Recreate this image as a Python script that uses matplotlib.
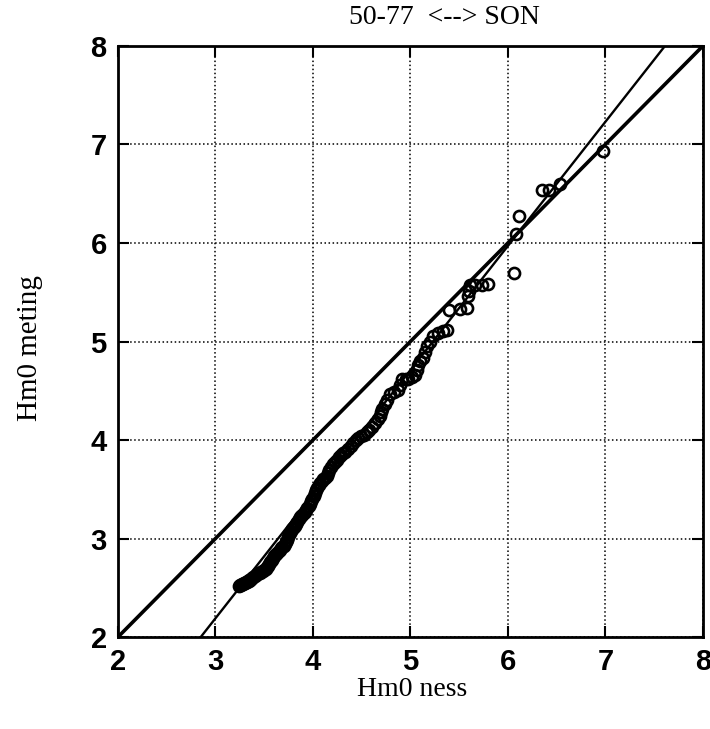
import matplotlib
matplotlib.use("Agg")
import matplotlib.pyplot as plt

# Hm0 from the wave model (ness) against measured Hm0 (meting), sorted pairs
ness = [3.24, 3.25, 3.26, 3.27, 3.28, 3.29, 3.30, 3.31, 3.32, 3.33,
        3.34, 3.35, 3.36, 3.37, 3.38, 3.39, 3.41, 3.42, 3.43, 3.44,
        3.46, 3.47, 3.49, 3.50, 3.52, 3.53, 3.54, 3.55, 3.56, 3.57,
        3.58, 3.59, 3.60, 3.61, 3.62, 3.63, 3.65, 3.66, 3.67, 3.68,
        3.70, 3.71, 3.72, 3.73, 3.75, 3.76, 3.77, 3.78, 3.79, 3.80,
        3.81, 3.82, 3.83, 3.84, 3.86, 3.87, 3.88, 3.89, 3.91, 3.92,
        3.93, 3.94, 3.96, 3.97, 3.98, 3.99, 4.01, 4.02, 4.03, 4.04,
        4.06, 4.07, 4.09, 4.10, 4.12, 4.14, 4.16, 4.17, 4.19, 4.21,
        4.23, 4.25, 4.27, 4.29, 4.31, 4.33, 4.36, 4.39, 4.41, 4.44,
        4.46, 4.49, 4.52, 4.55, 4.58, 4.61, 4.64, 4.67, 4.69, 4.70,
        4.71, 4.74, 4.76, 4.79, 4.83, 4.87, 4.89, 4.91, 4.95, 4.98,
        5.02, 5.05, 5.07, 5.08, 5.10, 5.13, 5.15, 5.17, 5.20, 5.23,
        5.28, 5.33, 5.38, 5.40, 5.51, 5.58, 5.59, 5.60, 5.61, 5.66,
        5.73, 5.80, 6.06, 6.08, 6.11, 6.35, 6.42, 6.53, 6.98]
meting = [2.52, 2.53, 2.53, 2.54, 2.54, 2.55, 2.55, 2.56, 2.56, 2.57,
          2.57, 2.58, 2.58, 2.59, 2.60, 2.61, 2.62, 2.63, 2.64, 2.65,
          2.65, 2.66, 2.67, 2.68, 2.69, 2.71, 2.72, 2.74, 2.76, 2.77,
          2.78, 2.80, 2.82, 2.83, 2.84, 2.85, 2.87, 2.88, 2.90, 2.91,
          2.93, 2.95, 2.97, 2.99, 3.02, 3.05, 3.06, 3.08, 3.10, 3.11,
          3.12, 3.13, 3.15, 3.17, 3.20, 3.22, 3.23, 3.24, 3.26, 3.27,
          3.29, 3.31, 3.33, 3.35, 3.38, 3.40, 3.43, 3.46, 3.49, 3.51,
          3.54, 3.56, 3.58, 3.60, 3.62, 3.64, 3.67, 3.70, 3.73, 3.76,
          3.78, 3.80, 3.83, 3.85, 3.87, 3.88, 3.91, 3.94, 3.97, 4.00,
          4.02, 4.04, 4.05, 4.08, 4.10, 4.13, 4.17, 4.21, 4.24, 4.28,
          4.32, 4.37, 4.41, 4.47, 4.49, 4.51, 4.56, 4.62, 4.62, 4.62,
          4.64, 4.66, 4.71, 4.76, 4.80, 4.83, 4.89, 4.95, 5.00, 5.06,
          5.09, 5.11, 5.12, 5.32, 5.33, 5.34, 5.46, 5.51, 5.57, 5.57,
          5.57, 5.58, 5.70, 6.09, 6.27, 6.54, 6.54, 6.60, 6.93]

# linear fit through the pairs
fit_slope = 1.26
fit_intercept = -1.59

ticks = [2, 3, 4, 5, 6, 7, 8]

fig = plt.figure(figsize=(7.10, 7.29), dpi=100)
ax = fig.add_axes([0.166, 0.126, 0.824, 0.811])

ax.plot([2, 8], [2, 8], color="k", lw=2.6)
fx = [1.5, 8.5]
ax.plot(fx, [fit_slope * v + fit_intercept for v in fx], color="k", lw=1.7)
ax.plot(ness, meting, "o", mfc="none", mec="k", ms=8, mew=1.9)

ax.set_xlim(2, 8)
ax.set_ylim(2, 8)
ax.set_xticks(ticks)
ax.set_yticks(ticks)
ax.grid(True, linestyle=":", color="k", lw=1.1)
ax.tick_params(direction="in", length=8, width=1.5, top=True, right=True,
               labelsize=21, pad=8)
for lab in ax.get_xticklabels() + ax.get_yticklabels():
    lab.set_family(["Liberation Sans", "DejaVu Sans"])
    lab.set_fontweight("bold")
for sp in ax.spines.values():
    sp.set_linewidth(2)

serif = ["Liberation Serif", "DejaVu Serif"]
fig.text(444 / 710, 1 - 17 / 729, "50-77  <--> SON", ha="center", va="center",
         fontsize=20, family=serif)
fig.text(412 / 710, 1 - 690 / 729, "Hm0 ness", ha="center", va="center",
         fontsize=20, family=serif)
fig.text(30 / 710, 1 - 348 / 729, "Hm0 meting", ha="center", va="center",
         rotation=90, fontsize=21, family=serif)

fig.savefig("out.png", dpi=100)
